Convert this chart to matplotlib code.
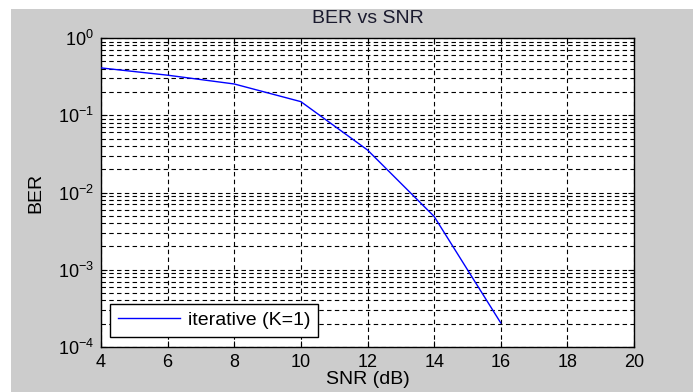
import matplotlib.pyplot as plt
from matplotlib.patches import Rectangle

snr_db = [4, 6, 8, 10, 12, 14, 16]
ber = [0.41, 0.33, 0.254, 0.150, 0.0355, 0.0049, 2.05e-4]
x_ticks = [4, 6, 8, 10, 12, 14, 16, 18, 20]

plt.rcParams['font.family'] = ['Liberation Sans', 'DejaVu Sans']
plt.rcParams['mathtext.fontset'] = 'custom'
plt.rcParams['mathtext.rm'] = 'Liberation Sans'

fig = plt.figure(figsize=(6.93, 3.92), dpi=100)
fig.patch.set_facecolor('white')
# grey panel behind the axes, leaving a thin white strip top and left
fig.patches.append(Rectangle((11 / 693, 0), 1, 1 - 9 / 392, transform=fig.transFigure,
                             facecolor='#cccccc', edgecolor='none', zorder=-10))

ax = fig.add_axes([101 / 693, 1 - 347 / 392, 533 / 693, 309 / 392])
ax.set_facecolor('white')

ax.semilogy(snr_db, ber, color='#0000ff', linewidth=1.0, label='iterative (K=1)', zorder=3)

ax.set_xlim(4, 20)
ax.set_ylim(1e-4, 1)
ax.set_xticks(x_ticks)
ax.grid(True, which='major', color='black', linestyle=(0, (4, 3)), linewidth=0.8)
ax.grid(True, which='minor', axis='y', color='black', linestyle=(0, (4, 3)), linewidth=0.8)
ax.tick_params(which='both', direction='in', top=True, right=True, labelsize=13, colors='black')
ax.tick_params(which='major', length=4)
ax.tick_params(which='minor', length=2)
ax.tick_params(axis='x', pad=5)
ax.tick_params(axis='y', pad=5)
for s in ax.spines.values():
    s.set_linewidth(1.0)
    s.set_color('black')

ax.set_title('BER vs SNR', fontsize=14, pad=11, color='#1a1a2e')
ax.set_xlabel('SNR (dB)', fontsize=14, labelpad=0)
ax.set_ylabel('BER', fontsize=14, labelpad=10)

leg = ax.legend(loc='lower left', fontsize=14, fancybox=False, framealpha=1,
                edgecolor='black', handlelength=3.2, handletextpad=0.4,
                borderpad=0.4, borderaxespad=0,
                bbox_to_anchor=(9 / 533, 10 / 309))
leg.get_frame().set_linewidth(1.0)

fig.savefig('out.png', dpi=100)
